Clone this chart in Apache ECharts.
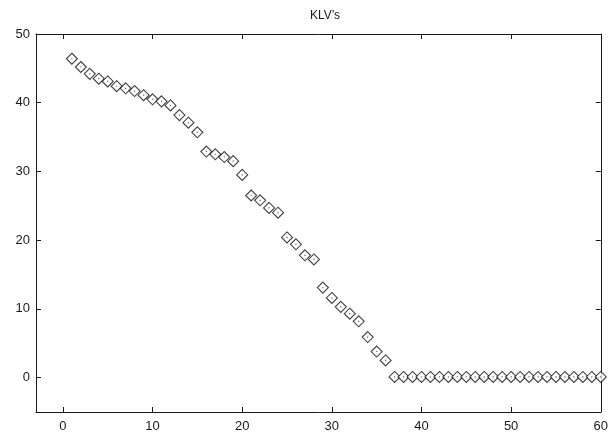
<!DOCTYPE html>
<html>
<head>
<meta charset="utf-8">
<script src="https://cdn.jsdelivr.net/npm/echarts@6/dist/echarts.min.js"></script>
<style>html,body{margin:0;padding:0;background:#fff;}#c{width:611px;height:438px;}</style>
</head>
<body>
<div id="c"></div>
<script>
var titleText = "KLV’s";
var xValues = [1,2,3,4,5,6,7,8,9,10,11,12,13,14,15,16,17,18,19,20,21,22,23,24,25,26,27,28,29,30,31,32,33,34,35,36,37,38,39,40,41,42,43,44,45,46,47,48,49,50,51,52,53,54,55,56,57,58,59,60];
var klvValues = [46.4,45.2,44.2,43.5,43.1,42.4,42.1,41.7,41.1,40.5,40.2,39.6,38.2,37.1,35.7,32.9,32.5,32.1,31.5,29.5,26.5,25.8,24.7,24.0,20.4,19.4,17.8,17.2,13.1,11.6,10.3,9.3,8.2,5.9,3.8,2.5,0.1,0.1,0.1,0.1,0.1,0.1,0.1,0.1,0.1,0.1,0.1,0.1,0.1,0.1,0.1,0.1,0.1,0.1,0.1,0.1,0.1,0.1,0.1,0.1];
var xTicks = [0,10,20,30,40,50,60];
var yTicks = [0,10,20,30,40,50];
var xRange = [-3, 60];
var yRange = [-5, 50];

var pts = xValues.map(function(x,i){return [x, klvValues[i]];});
var font = "'Liberation Sans', Arial, Helvetica, sans-serif";
var lineStyle = {color:'#1a1a1a', width:1};
function xAxis(pos, show){
  return {type:'value', position:pos, min:xRange[0], max:xRange[1],
    axisLine:{show:true, onZero:false, lineStyle:lineStyle},
    axisTick:{show:true, inside:true, length:5, customValues:xTicks, lineStyle:lineStyle},
    axisLabel:{show:show, customValues:xTicks, color:'#1a1a1a', fontSize:13, fontFamily:font, margin:8},
    splitLine:{show:false}};
}
function yAxis(pos, show){
  return {type:'value', position:pos, min:yRange[0], max:yRange[1],
    axisLine:{show:true, onZero:false, lineStyle:lineStyle},
    axisTick:{show:true, inside:true, length:5, customValues:yTicks, lineStyle:lineStyle},
    axisLabel:{show:show, customValues:yTicks, color:'#1a1a1a', fontSize:13, fontFamily:font, margin:6},
    splitLine:{show:false}};
}
var chart = echarts.init(document.getElementById('c'), null, {renderer:'canvas'});
chart.setOption({
  animation:false,
  backgroundColor:'#fff',
  title:{text:titleText, left:320, textAlign:'center', top:5, textStyle:{fontSize:12, fontWeight:'normal', color:'#1a1a1a', fontFamily:font}},
  grid:{left:36, right:8, top:34, bottom:26, containLabel:false},
  xAxis:[xAxis('bottom', true), xAxis('top', false)],
  yAxis:[yAxis('left', true), yAxis('right', false)],
  series:[
    {type:'scatter', data:pts, symbol:'diamond', symbolSize:[11,11],
     itemStyle:{color:'#fff', borderColor:'#111', borderWidth:1.1}, z:2},
    {type:'scatter', data:pts, symbol:'rect', symbolSize:1.2,
     itemStyle:{color:'#444'}, z:3, silent:true}
  ]
});
</script>
</body>
</html>
